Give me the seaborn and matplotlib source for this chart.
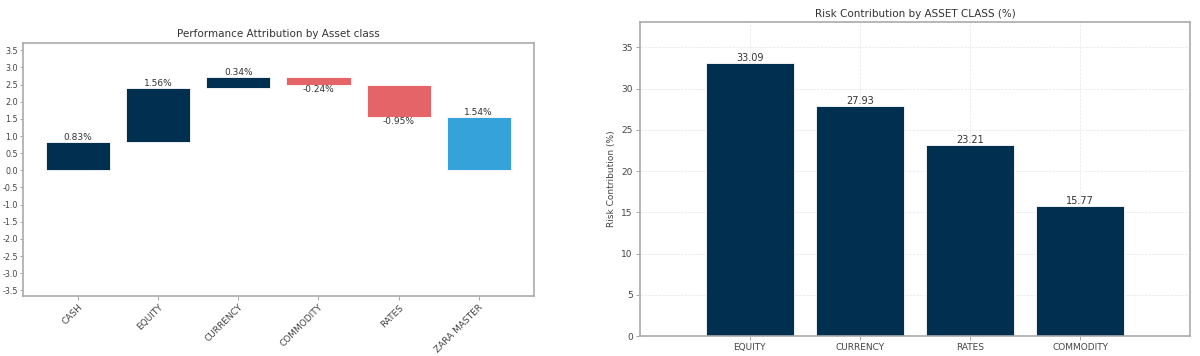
import matplotlib
matplotlib.use("Agg")
import matplotlib.pyplot as plt
import seaborn as sns
import numpy as np
import pandas as pd

# ---- data ----
perf_categories = ["CASH", "EQUITY", "CURRENCY", "COMMODITY", "RATES", "ZARA MASTER"]
perf_values = [0.83, 1.56, 0.34, -0.24, -0.95, 1.54]

risk_categories = ["EQUITY", "CURRENCY", "RATES", "COMMODITY"]
risk_values = [33.09, 27.93, 23.21, 15.77]

NAVY = "#002f4f"
RED = "#e46468"
BLUE = "#35a3da"
SPINE = "#aaaaaa"

sns.set_theme(style="white")
plt.rcParams["font.family"] = ["DejaVu Sans"]

fig = plt.figure(figsize=(12, 3.56), dpi=100)
ax1 = fig.add_axes([0.019, 0.169, 0.426, 0.711])
ax2 = fig.add_axes([0.533, 0.056, 0.459, 0.882])

# ---- left: waterfall ----
n = len(perf_values)
bottoms = []
colors = []
running = 0.0
for i, v in enumerate(perf_values):
    if i == n - 1:
        bottoms.append(0.0)
        colors.append(BLUE)
    else:
        bottoms.append(running if v >= 0 else running + v)
        colors.append(NAVY if v >= 0 else RED)
        running += v
heights = [abs(v) for v in perf_values]
xpos = np.arange(n)
ax1.bar(xpos, heights, bottom=bottoms, width=0.8, color=colors,
        edgecolor="white", linewidth=0.6)
for i, v in enumerate(perf_values):
    if v >= 0:
        ax1.text(xpos[i], bottoms[i] + heights[i], f"{v:.2f}%", ha="center",
                 va="bottom", fontsize=6.5, color="#333333")
    else:
        ax1.text(xpos[i], bottoms[i], f"{v:.2f}%", ha="center",
                 va="top", fontsize=6.5, color="#333333")
ax1.set_xticks(xpos)
ax1.set_xticklabels(perf_categories, rotation=45, ha="right",
                    rotation_mode="anchor", fontsize=6.5, color="#444444")
yt = np.arange(-3.5, 3.51, 0.5)
ax1.set_yticks(yt)
ax1.set_yticklabels([f"{t:.1f}" for t in yt], fontsize=5.8, color="#444444")
ax1.set_ylim(-3.66, 3.72)
ax1.set_title("Performance Attribution by Asset class", fontsize=7.5,
              color="#333333", pad=4)
ax1.tick_params(axis="x", length=3, width=0.6, color="#999999", pad=2, bottom=True)
ax1.tick_params(axis="y", length=2.5, width=0.6, color="#999999", pad=1, left=True)

# ---- right: risk contribution ----
risk_df = pd.DataFrame({"category": risk_categories, "value": risk_values})
sns.barplot(data=risk_df, x="category", y="value", color=NAVY, width=0.8,
            saturation=1, edgecolor="white", linewidth=0.6, ax=ax2)
for i, v in enumerate(risk_values):
    ax2.text(i, v, f"{v:.2f}", ha="center", va="bottom", fontsize=7,
             color="#333333")
ax2.set_xlim(-1, 4)
ax2.set_ylim(0, max(risk_values) * 1.15)
ax2.set_yticks(np.arange(0, 36, 5))
ax2.set_xlabel("")
ax2.set_ylabel("Risk Contribution (%)", fontsize=6.5, color="#444444", labelpad=4)
ax2.set_title("Risk Contribution by ASSET CLASS (%)", fontsize=7.5,
              color="#333333", pad=4)
ax2.grid(True, linestyle="--", linewidth=0.5, color="#e0e0e0", alpha=0.8)
ax2.set_axisbelow(True)
ax2.tick_params(axis="both", labelsize=6.5, labelcolor="#444444", length=3,
                width=0.6, color="#999999", pad=2, bottom=True, left=True)

for ax in (ax1, ax2):
    for s in ax.spines.values():
        s.set_color(SPINE)
        s.set_linewidth(1.2)

fig.savefig("out.png", dpi=100, facecolor="white")
